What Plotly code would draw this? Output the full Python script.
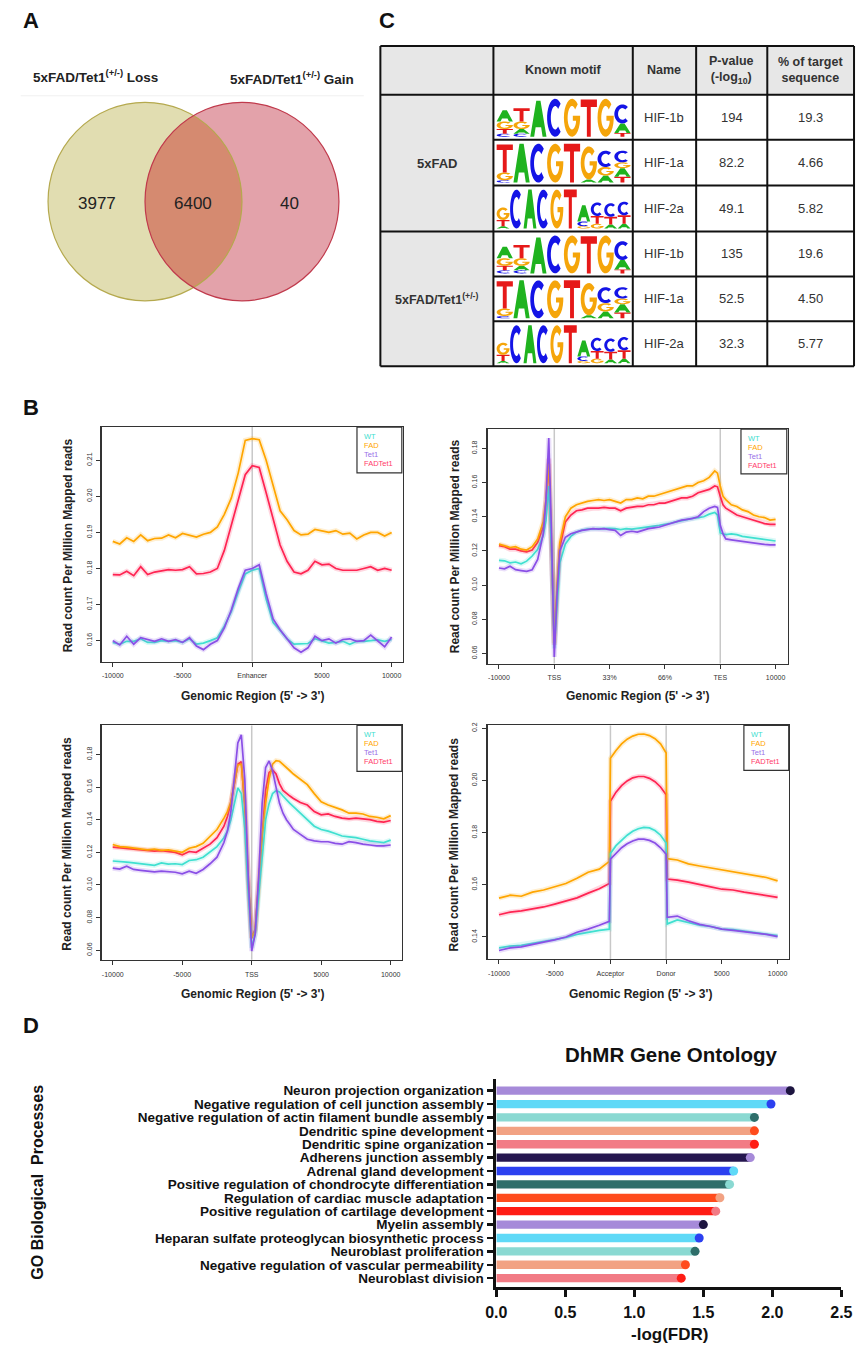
import numpy as np
import plotly.graph_objects as go

W, H = 866, 1347
FONT = "Arial, Liberation Sans, sans-serif"


def px(x):
    return x / W


def py(y):
    return 1 - y / H


# ------------------------------------------------------------------ DATA
# Panel A (Venn)
venn_titles = ["5xFAD/Tet1<sup>(+/-)</sup> Loss", "5xFAD/Tet1<sup>(+/-)</sup> Gain"]
venn_counts = [3977, 6400, 40]  # loss only, shared, gain only

# Panel C (motif table)
table_header = ["", "Known motif", "Name", "P-value<br>(-log<sub>10</sub>)", "% of target<br>sequence"]
motif_groups = ["5xFAD", "5xFAD/Tet1<sup>(+/-)</sup>"]
motif_names = ["HIF-1b", "HIF-1a", "HIF-2a", "HIF-1b", "HIF-1a", "HIF-2a"]
motif_pvals = ["194", "82.2", "49.1", "135", "52.5", "32.3"]
motif_pct = ["19.3", "4.66", "5.82", "19.6", "4.50", "5.77"]
# sequence logos: per position, stack from bottom to top (letter, relative height)
logo_hif1b = [[("C", 0.08), ("T", 0.12), ("G", 0.2), ("A", 0.3)],
              [("C", 0.08), ("A", 0.12), ("G", 0.2), ("T", 0.35)],
              [("A", 0.95)], [("C", 1.0)], [("G", 1.0)], [("T", 0.98)], [("G", 1.0)],
              [("T", 0.1), ("A", 0.25), ("C", 0.5)]]
logo_hif1a = [[("C", 0.06), ("G", 0.2), ("T", 0.72)],
              [("A", 1.0)], [("C", 1.0)], [("G", 1.0)], [("T", 1.0)],
              [("A", 0.08), ("G", 0.85)],
              [("A", 0.18), ("G", 0.22), ("C", 0.42)],
              [("T", 0.15), ("A", 0.22), ("G", 0.15), ("C", 0.3)]]
logo_hif2a = [[("A", 0.06), ("T", 0.16), ("G", 0.32)],
              [("C", 1.0)], [("A", 1.0)], [("C", 1.0)], [("G", 1.0)], [("T", 1.0)],
              [("G", 0.06), ("C", 0.12), ("A", 0.42)],
              [("G", 0.12), ("T", 0.2), ("C", 0.35)],
              [("A", 0.1), ("T", 0.2), ("C", 0.35)],
              [("A", 0.12), ("T", 0.22), ("C", 0.35)]]
motif_logos = [logo_hif1b, logo_hif1a, logo_hif2a, logo_hif1b, logo_hif1a, logo_hif2a]

# Panel B (profiles)
series_names = ["WT", "FAD", "Tet1", "FADTet1"]

enh_x = [-10000, -9500, -9000, -8500, -8000, -7500, -7000, -6500, -6000, -5500, -5000,
         -4500, -4000, -3500, -3000, -2500, -2000, -1500, -1000, -500, 0, 500, 1000,
         1500, 2000, 2500, 3000, 3500, 4000, 4500, 5000, 5500, 6000, 6500, 7000, 7500,
         8000, 8500, 9000, 9500, 10000]
enh_wt = [0.1595, 0.1590, 0.1598, 0.1598, 0.1605, 0.1595, 0.1595, 0.1600, 0.1598, 0.1600,
          0.1595, 0.1605, 0.1590, 0.1593, 0.1600, 0.1608, 0.1640, 0.1680, 0.1735, 0.1785,
          0.1795, 0.1800, 0.1715, 0.1650, 0.1628, 0.1605, 0.1590, 0.1590, 0.1592, 0.1605,
          0.1600, 0.1593, 0.1595, 0.1598, 0.1590, 0.1598, 0.1598, 0.1600, 0.1602, 0.1598, 0.1603]
enh_fad = [0.1875, 0.1868, 0.1885, 0.1875, 0.1893, 0.1877, 0.1883, 0.1884, 0.1893, 0.1885,
           0.1897, 0.1893, 0.1887, 0.1895, 0.1900, 0.1915, 0.1950, 0.1995, 0.2065, 0.2155,
           0.2160, 0.2157, 0.2100, 0.2030, 0.1960, 0.1935, 0.1905, 0.1893, 0.1895, 0.1908,
           0.1905, 0.1900, 0.1905, 0.1895, 0.1898, 0.1882, 0.1893, 0.1900, 0.1900, 0.1890, 0.1900]
enh_tet1 = [0.1600, 0.1588, 0.1612, 0.1590, 0.1608, 0.1602, 0.1598, 0.1605, 0.1598, 0.1603,
            0.1595, 0.1608, 0.1585, 0.1575, 0.1590, 0.1600, 0.1635, 0.1685, 0.1745, 0.1795,
            0.1800, 0.1810, 0.1730, 0.1660, 0.1630, 0.1605, 0.1580, 0.1568, 0.1580, 0.1612,
            0.1600, 0.1605, 0.1593, 0.1603, 0.1605, 0.1598, 0.1600, 0.1615, 0.1598, 0.1583, 0.1610]
enh_fadtet1 = [0.1783, 0.1782, 0.1792, 0.1780, 0.1805, 0.1783, 0.1790, 0.1793, 0.1797, 0.1795,
               0.1797, 0.1805, 0.1785, 0.1786, 0.1790, 0.1800, 0.1850, 0.1920, 0.1990, 0.2060,
               0.2085, 0.2080, 0.2010, 0.1935, 0.1865, 0.1820, 0.1790, 0.1785, 0.1795, 0.1820,
               0.1810, 0.1812, 0.1800, 0.1795, 0.1795, 0.1795, 0.1800, 0.1805, 0.1795, 0.1800, 0.1795]

gb_ticks = ["-10000", "TSS", "33%", "66%", "TES", "10000"]
gb_x = [0.0, 0.1, 0.2, 0.3, 0.4, 0.5, 0.6, 0.7, 0.8, 0.85, 0.9, 0.95, 1.0, 1.05, 1.1, 1.2,
        1.3, 1.4, 1.5, 1.6, 1.7, 1.8, 1.9, 2.0, 2.1, 2.2, 2.3, 2.4, 2.5, 2.6, 2.7, 2.8, 2.9,
        3.0, 3.1, 3.2, 3.3, 3.4, 3.5, 3.6, 3.7, 3.8, 3.9, 3.95, 4.0, 4.05, 4.1, 4.2, 4.3,
        4.4, 4.5, 4.6, 4.7, 4.8, 4.9, 5.0]
gb_wt = [0.1145, 0.1142, 0.1130, 0.1135, 0.1125, 0.1140, 0.1170, 0.1210, 0.1290, 0.1380,
         0.1580, 0.1200, 0.0630, 0.0900, 0.1130, 0.1240, 0.1285, 0.1310, 0.1322, 0.1328,
         0.1330, 0.1332, 0.1330, 0.1332, 0.1330, 0.1325, 0.1330, 0.1328, 0.1332, 0.1335,
         0.1340, 0.1345, 0.1350, 0.1355, 0.1362, 0.1370, 0.1378, 0.1385, 0.1390, 0.1395,
         0.1400, 0.1415, 0.1425, 0.1410, 0.1305, 0.1300, 0.1295, 0.1300, 0.1295, 0.1285,
         0.1280, 0.1275, 0.1270, 0.1265, 0.1260, 0.1258]
gb_fad = [0.1240, 0.1230, 0.1220, 0.1225, 0.1210, 0.1205, 0.1225, 0.1270, 0.1370, 0.1500,
          0.1710, 0.1250, 0.0660, 0.1000, 0.1250, 0.1400, 0.1450, 0.1470, 0.1480, 0.1490,
          0.1495, 0.1500, 0.1495, 0.1500, 0.1490, 0.1480, 0.1500, 0.1500, 0.1510, 0.1505,
          0.1520, 0.1520, 0.1530, 0.1540, 0.1550, 0.1560, 0.1570, 0.1580, 0.1580, 0.1600,
          0.1610, 0.1630, 0.1668, 0.1655, 0.1580, 0.1520, 0.1500, 0.1470, 0.1460, 0.1440,
          0.1430, 0.1410, 0.1400, 0.1395, 0.1380, 0.1385]
gb_tet1 = [0.1100, 0.1095, 0.1110, 0.1090, 0.1085, 0.1080, 0.1090, 0.1150, 0.1300, 0.1500,
           0.1860, 0.1300, 0.0580, 0.0950, 0.1200, 0.1280, 0.1300, 0.1310, 0.1320, 0.1325,
           0.1330, 0.1328, 0.1330, 0.1325, 0.1320, 0.1290, 0.1310, 0.1315, 0.1310, 0.1320,
           0.1330, 0.1335, 0.1340, 0.1350, 0.1360, 0.1370, 0.1380, 0.1385, 0.1390, 0.1400,
           0.1430, 0.1450, 0.1460, 0.1455, 0.1350, 0.1300, 0.1270, 0.1265, 0.1260, 0.1255,
           0.1250, 0.1245, 0.1240, 0.1238, 0.1235, 0.1235]
gb_fadtet1 = [0.1230, 0.1225, 0.1210, 0.1210, 0.1200, 0.1195, 0.1205, 0.1250, 0.1340, 0.1480,
              0.1740, 0.1250, 0.0650, 0.0970, 0.1220, 0.1370, 0.1410, 0.1435, 0.1440, 0.1450,
              0.1450, 0.1450, 0.1455, 0.1450, 0.1450, 0.1435, 0.1450, 0.1455, 0.1460, 0.1460,
              0.1470, 0.1470, 0.1480, 0.1480, 0.1490, 0.1500, 0.1510, 0.1510, 0.1520, 0.1540,
              0.1550, 0.1560, 0.1580, 0.1575, 0.1520, 0.1470, 0.1450, 0.1430, 0.1410, 0.1400,
              0.1390, 0.1380, 0.1370, 0.1360, 0.1355, 0.1355]

tss_x = [-10000, -9500, -9000, -8500, -8000, -7500, -7000, -6500, -6000, -5500, -5000, -4500,
         -4000, -3500, -3000, -2500, -2000, -1750, -1500, -1250, -1000, -750, -500, -250, 0,
         250, 500, 750, 1000, 1250, 1500, 1750, 2000, 2250, 2500, 2750, 3000, 3500, 4000,
         4500, 5000, 5500, 6000, 6500, 7000, 7500, 8000, 8500, 9000, 9500, 10000]
tss_wt = [0.1147, 0.1145, 0.1140, 0.1135, 0.1130, 0.1128, 0.1120, 0.1135, 0.1128, 0.1130,
          0.1125, 0.1150, 0.1155, 0.1170, 0.1200, 0.1235, 0.1290, 0.1330, 0.1400, 0.1500,
          0.1595, 0.1560, 0.1350, 0.0950, 0.0615, 0.0700, 0.0950, 0.1200, 0.1400, 0.1500,
          0.1560, 0.1578, 0.1570, 0.1545, 0.1520, 0.1500, 0.1480, 0.1440, 0.1395, 0.1360,
          0.1340, 0.1330, 0.1315, 0.1300, 0.1295, 0.1290, 0.1280, 0.1270, 0.1265, 0.1260, 0.1275]
tss_fad = [0.1248, 0.1235, 0.1232, 0.1225, 0.1222, 0.1215, 0.1220, 0.1212, 0.1215, 0.1208,
           0.1200, 0.1225, 0.1235, 0.1255, 0.1300, 0.1340, 0.1410, 0.1450, 0.1510, 0.1620,
           0.1735, 0.1740, 0.1500, 0.1050, 0.0675, 0.0720, 0.1000, 0.1300, 0.1500, 0.1650,
           0.1740, 0.1762, 0.1758, 0.1740, 0.1720, 0.1700, 0.1680, 0.1650, 0.1615, 0.1560,
           0.1510, 0.1490, 0.1475, 0.1460, 0.1440, 0.1440, 0.1435, 0.1420, 0.1415, 0.1405, 0.1425]
tss_tet1 = [0.1103, 0.1097, 0.1115, 0.1095, 0.1090, 0.1085, 0.1080, 0.1085, 0.1082, 0.1078,
            0.1068, 0.1085, 0.1072, 0.1095, 0.1130, 0.1170, 0.1260, 0.1330, 0.1450, 0.1650,
            0.1870, 0.1920, 0.1650, 0.1050, 0.0595, 0.0700, 0.1050, 0.1500, 0.1720, 0.1760,
            0.1700, 0.1600, 0.1500, 0.1440, 0.1400, 0.1370, 0.1340, 0.1310, 0.1280, 0.1270,
            0.1265, 0.1265, 0.1255, 0.1250, 0.1265, 0.1260, 0.1250, 0.1245, 0.1240, 0.1240, 0.1245]
tss_fadtet1 = [0.1232, 0.1228, 0.1225, 0.1220, 0.1215, 0.1210, 0.1208, 0.1210, 0.1205, 0.1200,
               0.1185, 0.1205, 0.1200, 0.1225, 0.1250, 0.1290, 0.1360, 0.1420, 0.1500, 0.1620,
               0.1740, 0.1755, 0.1480, 0.1020, 0.0675, 0.0730, 0.1020, 0.1350, 0.1580, 0.1690,
               0.1705, 0.1680, 0.1620, 0.1580, 0.1560, 0.1545, 0.1530, 0.1505, 0.1490, 0.1450,
               0.1430, 0.1435, 0.1420, 0.1410, 0.1405, 0.1410, 0.1405, 0.1400, 0.1390, 0.1385, 0.1395]

ex_ticks = ["-10000", "-5000", "Acceptor", "Donor", "5000", "10000"]
ex_x = [0.0, 0.2, 0.4, 0.6, 0.8, 1.0, 1.2, 1.4, 1.6, 1.8, 1.98, 2.0, 2.1, 2.2, 2.3, 2.4, 2.5,
        2.6, 2.7, 2.8, 2.9, 3.0, 3.02, 3.2, 3.4, 3.6, 3.8, 4.0, 4.2, 4.4, 4.6, 4.8, 5.0]
ex_wt = [0.1358, 0.1365, 0.1368, 0.1375, 0.1382, 0.1389, 0.1398, 0.1410, 0.1418, 0.1425, 0.1430,
         0.1720, 0.1750, 0.1772, 0.1790, 0.1805, 0.1815, 0.1820, 0.1818, 0.1808, 0.1790, 0.1760,
         0.1450, 0.1465, 0.1455, 0.1445, 0.1440, 0.1430, 0.1428, 0.1422, 0.1418, 0.1412, 0.1405]
ex_fad = [0.1549, 0.1560, 0.1556, 0.1572, 0.1580, 0.1592, 0.1605, 0.1625, 0.1648, 0.1660, 0.1690,
          0.2085, 0.2115, 0.2140, 0.2158, 0.2170, 0.2177, 0.2178, 0.2172, 0.2160, 0.2140, 0.2105,
          0.1700, 0.1695, 0.1680, 0.1672, 0.1665, 0.1658, 0.1650, 0.1642, 0.1635, 0.1628, 0.1615]
ex_tet1 = [0.1348, 0.1358, 0.1362, 0.1370, 0.1380, 0.1389, 0.1400, 0.1418, 0.1430, 0.1445, 0.1460,
           0.1698, 0.1722, 0.1742, 0.1757, 0.1768, 0.1775, 0.1775, 0.1770, 0.1760, 0.1742, 0.1717,
           0.1475, 0.1480, 0.1462, 0.1448, 0.1440, 0.1430, 0.1425, 0.1420, 0.1415, 0.1410, 0.1401]
ex_fadtet1 = [0.1485, 0.1495, 0.1500, 0.1508, 0.1515, 0.1526, 0.1538, 0.1550, 0.1568, 0.1585, 0.1605,
              0.1920, 0.1955, 0.1980, 0.1998, 0.2010, 0.2015, 0.2015, 0.2008, 0.1995, 0.1975, 0.1945,
              0.1622, 0.1618, 0.1610, 0.1600, 0.1592, 0.1583, 0.1580, 0.1572, 0.1565, 0.1560, 0.1552]

# Panel D (GO)
go_terms = ["Neuron projection organization",
            "Negative regulation of cell junction assembly",
            "Negative regulation of actin filament bundle assembly",
            "Dendritic spine development",
            "Dendritic spine organization",
            "Adherens junction assembly",
            "Adrenal gland development",
            "Positive regulation of chondrocyte differentiation",
            "Regulation of cardiac muscle adaptation",
            "Positive regulation of cartilage development",
            "Myelin assembly",
            "Heparan sulfate proteoglycan biosynthetic process",
            "Neuroblast proliferation",
            "Negative regulation of vascular permeability",
            "Neuroblast division"]
go_values = [2.13, 1.99, 1.87, 1.87, 1.87, 1.84, 1.72, 1.69, 1.62, 1.59, 1.50, 1.47, 1.44, 1.37, 1.34]
go_bar_colors = ["#a68ad9", "#5fd9f7", "#8ad9d2", "#f2a283", "#f27b85", "#25164f", "#2c40f0",
                 "#2e6e6a", "#ff4b1c", "#ff1c14", "#a68ad9", "#5fd9f7", "#8ad9d2", "#f2a283", "#f27b85"]
go_dot_colors = ["#1d1540", "#2c40f0", "#2e6e6a", "#ff4b1c", "#ff1c14", "#a68ad9", "#5fd9f7",
                 "#8ad9d2", "#f2a283", "#f27b85", "#1d1540", "#2c40f0", "#2e6e6a", "#ff4b1c", "#ff1c14"]

# ------------------------------------------------------------------ STYLE
line_colors = {"WT": "#40E0D0", "FAD": "#FFA500", "Tet1": "#8A4FE6", "FADTet1": "#FF2452"}
legend_colors = {"WT": "#40E0D0", "FAD": "#FFA500", "Tet1": "#9A70E8", "FADTet1": "#FF3A6A"}
logo_colors = {"A": "#1fb31f", "C": "#1414e6", "G": "#f5a50a", "T": "#e61919"}

fig = go.Figure()
shapes = []
annotations = []


def ann(x, y, text, size, color="#111", bold=False, angle=0, xanchor="center", family=FONT):
    annotations.append(dict(x=px(x), y=py(y), xref="paper", yref="paper", text=("<b>%s</b>" % text) if bold else text,
                            showarrow=False, font=dict(size=size, color=color, family=family),
                            textangle=angle, xanchor=xanchor, yanchor="middle"))


def pline(x0, y0, x1, y1, color="#111", width=2):
    shapes.append(dict(type="line", xref="paper", yref="paper", x0=px(x0), y0=py(y0), x1=px(x1), y1=py(y1),
                       line=dict(color=color, width=width)))


def prect(x0, y0, x1, y1, fill, line_color=None, width=0):
    shapes.append(dict(type="rect", xref="paper", yref="paper", x0=px(x0), y0=py(y1), x1=px(x1), y1=py(y0),
                       fillcolor=fill, line=dict(color=line_color or fill, width=width), layer="below"))


# ------------------------------------------------------------------ Panel labels
for lab, (lx, ly) in zip("ABCD", [(21, 18), (21, 405), (386, 18), (21, 1025)]):
    ann(lx, ly, lab, 22, "#111", bold=True)

# ------------------------------------------------------------------ Panel A: Venn
cL, cR, rad, cy = 137.5, 237.0, 99.5, 199.0
pline(10, 93, 362, 93, "#f0f0f0", 1)
shapes.append(dict(type="circle", xref="paper", yref="paper", x0=px(cL - rad), x1=px(cL + rad),
                   y0=py(cy + rad), y1=py(cy - rad), fillcolor="#e1ddb1", line=dict(width=0)))
shapes.append(dict(type="circle", xref="paper", yref="paper", x0=px(cR - rad), x1=px(cR + rad),
                   y0=py(cy + rad), y1=py(cy - rad), fillcolor="#e3a2aa", line=dict(width=0)))
# lens (intersection)
d = cR - cL
a_half = d / 2
hh = np.sqrt(rad ** 2 - a_half ** 2)
ang = np.degrees(np.arctan2(hh, a_half))
t1 = np.radians(np.linspace(-ang, ang, 40))
t2 = np.radians(np.linspace(180 - ang, 180 + ang, 40))
ptsx = list(cL + rad * np.cos(t1)) + list(cR + rad * np.cos(t2[::-1]))
ptsy = list(cy + rad * np.sin(t1)) + list(cy - rad * np.sin(t2[::-1]))
path = "M " + " L ".join("%.5f,%.5f" % (px(x), py(y)) for x, y in zip(ptsx, ptsy)) + " Z"
shapes.append(dict(type="path", xref="paper", yref="paper", path=path, fillcolor="#d58a70", line=dict(width=0)))
shapes.append(dict(type="circle", xref="paper", yref="paper", x0=px(cL - rad), x1=px(cL + rad),
                   y0=py(cy + rad), y1=py(cy - rad), line=dict(color="#b5a94e", width=1.2)))
shapes.append(dict(type="circle", xref="paper", yref="paper", x0=px(cR - rad), x1=px(cR + rad),
                   y0=py(cy + rad), y1=py(cy - rad), line=dict(color="#c03a4c", width=1.2)))
ann(87, 73, venn_titles[0], 13.5, "#222", bold=True)
ann(288, 75, venn_titles[1], 13.5, "#222", bold=True)
for cx_, val in zip([88, 187, 286], venn_counts):
    ann(cx_, 201, str(val), 17, "#222")

# ------------------------------------------------------------------ Panel C: table
col_edges = [379, 495, 638, 703, 776, 865]
row_edges = [43, 92, 137, 183, 229, 274, 319, 364]
prect(col_edges[0], row_edges[0], col_edges[-1], row_edges[1], "#e7e7e7")
prect(col_edges[0], row_edges[1], col_edges[1], row_edges[-1], "#e7e7e7")
for xe in col_edges:
    pline(xe, row_edges[0], xe, row_edges[-1], "#111", 2)
for i, ye in enumerate(row_edges):
    x_start = col_edges[0] if i in (0, 1, 4, 7) else col_edges[1]
    pline(x_start, ye, col_edges[-1], ye, "#111", 2)
hy = (row_edges[0] + row_edges[1]) / 2
for j in range(1, 5):
    ann((col_edges[j] + col_edges[j + 1]) / 2, hy, table_header[j], 12.5, "#333", bold=True)
ann((col_edges[0] + col_edges[1]) / 2, (row_edges[1] + row_edges[4]) / 2, motif_groups[0], 13, "#333", bold=True)
ann((col_edges[0] + col_edges[1]) / 2, (row_edges[4] + row_edges[7]) / 2, motif_groups[1], 12.5, "#333", bold=True)
for r in range(6):
    ry = (row_edges[r + 1] + row_edges[r + 2]) / 2
    ann((col_edges[2] + col_edges[3]) / 2, ry, motif_names[r], 13, "#333")
    ann((col_edges[3] + col_edges[4]) / 2, ry, motif_pvals[r], 13, "#333")
    ann((col_edges[4] + col_edges[5]) / 2, ry, motif_pct[r], 13, "#333")


def arc(rx, ry, a0, a1, n=24):
    t = np.radians(np.linspace(a0, a1, n))
    return [(0.5 + rx * np.cos(v), 0.5 + ry * np.sin(v)) for v in t]


def glyph(letter):
    if letter == "T":
        return [[(0, 1), (1, 1), (1, 0.8), (0.62, 0.8), (0.62, 0), (0.38, 0), (0.38, 0.8), (0, 0.8)]]
    if letter == "A":
        return [[(0, 0), (0.37, 1), (0.63, 1), (1, 0), (0.76, 0), (0.67, 0.26), (0.33, 0.26), (0.24, 0)],
                [(0.39, 0.42), (0.61, 0.42), (0.5, 0.76)]]
    if letter == "C":
        return [arc(0.5, 0.5, 48, 312) + arc(0.27, 0.31, 312, 48)]
    # G
    return [arc(0.5, 0.5, 45, 355) + [(1.0, 0.55), (0.55, 0.55), (0.55, 0.42), (0.75, 0.42)]
            + arc(0.27, 0.31, 335, 45)]


def draw_logo(stacks, x0, x1, ytop, ybot):
    n = len(stacks)
    w = (x1 - x0) / n
    full = ybot - ytop
    for i, stack in enumerate(stacks):
        base = ybot
        lx0 = x0 + i * w + 0.3
        lw = w - 0.6
        for letter, hfrac in stack:
            hgt = full * hfrac
            for poly in glyph(letter):
                pts = [(lx0 + u * lw, base - v * hgt) for u, v in poly]
                p = "M " + " L ".join("%.5f,%.5f" % (px(a), py(b)) for a, b in pts) + " Z"
                shapes.append(dict(type="path", xref="paper", yref="paper", path=p, fillrule="evenodd",
                                   fillcolor=logo_colors[letter], line=dict(width=0)))
            base -= hgt


for r in range(6):
    draw_logo(motif_logos[r], col_edges[1] + 3, col_edges[2] - 2, row_edges[r + 1] + 4, row_edges[r + 2] - 3)

# ------------------------------------------------------------------ Panel B: profiles
panels = [
    dict(ax="", box=(93, 402, 425, 660), xs=enh_x, data=[enh_wt, enh_fad, enh_tet1, enh_fadtet1],
         xr=[-10800, 10800], yr=[0.1542, 0.2192], xt=[-10000, -5000, 0, 5000, 10000],
         xtt=["-10000", "-5000", "Enhancer", "5000", "10000"], yt=[0.16, 0.17, 0.18, 0.19, 0.20, 0.21],
         ytt=["0.16", "0.17", "0.18", "0.19", "0.20", "0.21"], vl=[0], ytitle=(58, 544), xtitle=(248, 695),
         leg=(355, 401, 425, 471)),
    dict(ax="2", box=(489, 797, 427, 662), xs=gb_x, data=[gb_wt, gb_fad, gb_tet1, gb_fadtet1],
         xr=[-0.206, 5.22], yr=[0.0541, 0.1913], xt=[0, 1, 2, 3, 4, 5], xtt=gb_ticks,
         yt=[0.06, 0.08, 0.10, 0.12, 0.14, 0.16, 0.18], ytt=["0.06", "0.08", "0.10", "0.12", "0.14", "0.16", "0.18"],
         vl=[1, 4], ytitle=(455, 544), xtitle=(643, 695), leg=(749, 796, 427, 472)),
    dict(ax="3", box=(93, 401, 724, 959), xs=tss_x, data=[tss_wt, tss_fad, tss_tet1, tss_fadtet1],
         xr=[-10800, 10800], yr=[0.0541, 0.1978], xt=[-10000, -5000, 0, 5000, 10000],
         xtt=["-10000", "-5000", "TSS", "5000", "10000"],
         yt=[0.06, 0.08, 0.10, 0.12, 0.14, 0.16, 0.18], ytt=["0.06", "0.08", "0.10", "0.12", "0.14", "0.16", "0.18"],
         vl=[0], ytitle=(58, 843), xtitle=(248, 993), leg=(355, 401, 724, 770)),
    dict(ax="4", box=(489, 798, 724, 958), xs=ex_x, data=[ex_wt, ex_fad, ex_tet1, ex_fadtet1],
         xr=[-0.205, 5.2], yr=[0.1316, 0.2211], xt=[0, 1, 2, 3, 4, 5], xtt=ex_ticks,
         yt=[0.14, 0.16, 0.18, 0.20, 0.22], ytt=["0.14", "0.16", "0.18", "0.20", "0.2"],
         vl=[2, 3], ytitle=(455, 843), xtitle=(646, 993), leg=(752, 798, 724, 769)),
]

axis_common = dict(showline=True, mirror=True, linecolor="#333", linewidth=1.3, ticks="outside", ticklen=4,
                   tickwidth=1, tickcolor="#333", showgrid=False, zeroline=False,
                   tickfont=dict(size=7, color="#333", family=FONT))
layout_axes = {}
for p in panels:
    xa, ya = "x" + p["ax"], "y" + p["ax"]
    x0, x1, y0, y1 = p["box"]
    for k in (3, 1, 0, 2):
        name = series_names[k]
        fig.add_trace(go.Scatter(x=p["xs"], y=p["data"][k], mode="lines", xaxis=xa, yaxis=ya,
                                 line=dict(color=line_colors[name], width=5), opacity=0.18,
                                 hoverinfo="skip", showlegend=False))
        fig.add_trace(go.Scatter(x=p["xs"], y=p["data"][k], mode="lines", xaxis=xa, yaxis=ya, name=name,
                                 line=dict(color=line_colors[name], width=1.7), showlegend=False))
    layout_axes["xaxis" + p["ax"]] = dict(axis_common, domain=[px(x0), px(x1)], range=p["xr"],
                                          tickvals=p["xt"], ticktext=p["xtt"], anchor=ya, ticklabelstandoff=3)
    layout_axes["yaxis" + p["ax"]] = dict(axis_common, domain=[py(y1), py(y0)], range=p["yr"],
                                          tickvals=p["yt"], ticktext=p["ytt"], anchor=xa, tickangle=-90,
                                          ticklabelstandoff=2)
    for v in p["vl"]:
        shapes.append(dict(type="line", xref=xa, yref=ya + " domain", x0=v, x1=v, y0=0, y1=1,
                           line=dict(color="#c8c8c8", width=1.5), layer="below"))
    ann(p["ytitle"][0], p["ytitle"][1], "Read count Per Million Mapped reads", 12, "#222", bold=True, angle=-90)
    ann(p["xtitle"][0], p["xtitle"][1], "Genomic Region (5' -> 3')", 12, "#222", bold=True)
    lx0, lx1, ly0, ly1 = p["leg"]
    shapes.append(dict(type="rect", xref="paper", yref="paper", x0=px(lx0), x1=px(lx1), y0=py(ly1), y1=py(ly0),
                       line=dict(color="#333", width=1.2), fillcolor="rgba(255,255,255,0)"))
    for i, name in enumerate(series_names):
        ann(lx0 + 5, ly0 + 9 + i * 9.2, name, 7.5, legend_colors[name], xanchor="left")

# ------------------------------------------------------------------ Panel D: GO bars
fig.add_trace(go.Bar(x=go_values, y=go_terms, orientation="h", xaxis="x5", yaxis="y5",
                     marker=dict(color=go_bar_colors, line=dict(width=0)), width=0.62, showlegend=False))
fig.add_trace(go.Scatter(x=go_values, y=go_terms, mode="markers", xaxis="x5", yaxis="y5",
                         marker=dict(color=go_dot_colors, size=9, line=dict(width=0)), showlegend=False))
layout_axes["xaxis5"] = dict(domain=[px(498), px(852)], range=[0, 2.5], anchor="y5", showline=True,
                             linecolor="#111", linewidth=3, ticks="outside", ticklen=7, tickwidth=3,
                             tickcolor="#111", tickvals=[0, 0.5, 1.0, 1.5, 2.0, 2.5], tickformat=".1f",
                             tickfont=dict(size=16, color="#111", family=FONT, weight="bold"),
                             showgrid=False, zeroline=False, ticklabelstandoff=2)
layout_axes["yaxis5"] = dict(domain=[py(1287), py(1078)], type="category", categoryarray=go_terms,
                             categoryorder="array", range=[14.67, -0.9], anchor="x5", showline=True,
                             linecolor="#111", linewidth=3, ticks="outside", ticklen=6, tickwidth=2.5,
                             tickcolor="#111", tickmode="array", tickvals=go_terms, ticktext=go_terms,
                             tickfont=dict(size=13.5, color="#111", family=FONT, weight="bold"),
                             showgrid=False, zeroline=False, ticklabelstandoff=1)
ann(677, 1054, "DhMR Gene Ontology", 20.5, "#111", bold=True)
ann(676, 1334, "-log(FDR)", 17, "#111", bold=True)
ann(27, 1182, "GO Biological  Processes", 16, "#111", bold=True, angle=-90)

fig.update_layout(width=W, height=H, margin=dict(l=0, r=0, t=0, b=0), paper_bgcolor="white",
                  plot_bgcolor="rgba(0,0,0,0)", shapes=shapes, annotations=annotations,
                  font=dict(family=FONT), bargap=0.3, hovermode=False, **layout_axes)
fig.write_html("out.html", config={"displayModeBar": False, "staticPlot": True},
               post_script="document.body.style.margin='0';document.body.style.overflow='hidden';")
